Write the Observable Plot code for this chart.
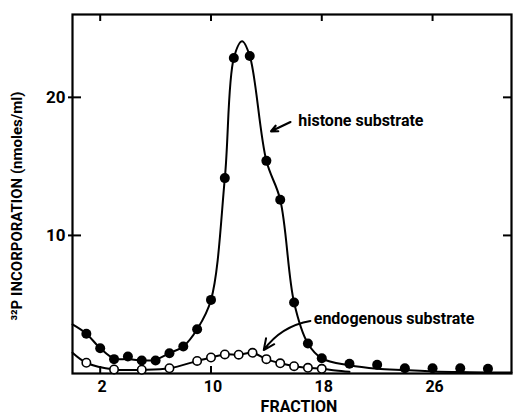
<!DOCTYPE html>
<html>
<head>
<meta charset="utf-8">
<script src="https://cdn.jsdelivr.net/npm/d3@7"></script>
<script src="https://cdn.jsdelivr.net/npm/@observablehq/plot@0.6"></script>
<style>
  html, body { margin: 0; padding: 0; background: #fff; }
  #chart svg { display: block; }
</style>
</head>
<body>
<div id="chart"></div>
<script>
// Histone substrate (filled dots)
const histoneFraction = [1, 2, 3, 4, 5, 6, 7, 8, 9, 10, 11, 11.65, 12.8, 14, 15, 16, 17, 18, 20, 22, 24, 26, 28, 30];
const histoneValue    = [2.88, 1.83, 1.04, 1.23, 0.94, 0.94, 1.47, 1.96, 3.21, 5.33, 14.15, 22.85, 23.0, 15.4, 12.59, 5.14, 2.17, 1.10, 0.70, 0.63, 0.38, 0.38, 0.38, 0.34];

// Endogenous substrate (open dots)
const endoFraction = [1, 3, 5, 7, 9, 10, 11, 12, 13, 14, 15, 16, 17, 18];
const endoValue    = [0.78, 0.29, 0.27, 0.38, 0.91, 1.16, 1.38, 1.36, 1.50, 1.04, 0.74, 0.53, 0.41, 0.34];

// Hand-drawn smooth curves
const histoneCurveFraction = [0, 1, 2, 3, 4, 5, 6, 7, 8, 9, 10, 11, 11.65, 12.25, 12.8, 14, 15, 16, 17, 18, 20, 22, 24, 26, 28, 30, 31.7];
const histoneCurveValue    = [3.55, 2.88, 1.83, 1.08, 1.05, 0.94, 1.0, 1.47, 1.96, 3.21, 5.33, 14.15, 22.85, 24.06, 23.0, 15.4, 12.59, 5.14, 2.17, 1.10, 0.6, 0.35, 0.25, 0.15, 0.1, 0.08, 0.08];
const endoCurveFraction = [0, 1, 3, 5, 7, 9, 10, 11, 12, 13, 14, 15, 16, 17, 18, 19, 20];
const endoCurveValue    = [1.5, 0.78, 0.29, 0.27, 0.38, 0.91, 1.16, 1.38, 1.36, 1.50, 1.04, 0.74, 0.53, 0.41, 0.34, 0.22, 0.12];

// Ticks
const xTicks = [2, 10, 18, 26];
const yTicks = [10, 20];

// Annotations
const labelText     = ["histone substrate", "endogenous substrate"];
const labelFraction = [16.3, 17.42];
const labelValue    = [18.33, 3.99];
const arrowFromFraction = [15.74, 17.18];
const arrowFromValue    = [18.21, 3.80];
const arrowToFraction   = [14.34, 13.81];
const arrowToValue      = [17.54, 1.70];

const histone = histoneFraction.map((f, i) => ({f, v: histoneValue[i]}));
const endo = endoFraction.map((f, i) => ({f, v: endoValue[i]}));
const histoneCurve = histoneCurveFraction.map((f, i) => ({f, v: histoneCurveValue[i]}));
const endoCurve = endoCurveFraction.map((f, i) => ({f, v: endoCurveValue[i]}));
const labels = labelText.map((t, i) => ({t, f: labelFraction[i], v: labelValue[i]}));
const arrows = arrowFromFraction.map((f, i) => ({
  x1: f, y1: arrowFromValue[i], x2: arrowToFraction[i], y2: arrowToValue[i]
}));

const W = 515, H = 414;
const mL = 72, mR = 4, mT = 14, mB = 41;
const pw = W - mL - mR, ph = H - mT - mB;
const font = "Roboto, 'DejaVu Sans', sans-serif";

const chart = Plot.plot({
  width: W,
  height: H,
  marginLeft: mL,
  marginRight: mR,
  marginTop: mT,
  marginBottom: mB,
  style: {fontFamily: font, fontWeight: "bold", color: "#000", background: "#fff"},
  x: {domain: [0, 31.7]},
  y: {domain: [0, 26]},
  marks: [
    Plot.frame({stroke: "#000", strokeWidth: 2.2}),
    // inward ticks on all four sides
    Plot.tickX(xTicks, {x: d => d, insetBottom: ph - 7, strokeWidth: 2}),
    Plot.tickX(xTicks, {x: d => d, insetTop: ph - 7, strokeWidth: 2}),
    Plot.tickY(yTicks, {y: d => d, insetRight: pw - 9, insetLeft: -4, strokeWidth: 2}),
    Plot.tickY(yTicks, {y: d => d, insetLeft: pw - 8, strokeWidth: 2}),
    Plot.axisX({ticks: xTicks, tickSize: 0, tickPadding: 7, fontSize: 16, dx: 2, tickFormat: d => d, label: null}),
    Plot.axisY({ticks: yTicks, tickSize: 0, tickPadding: 7, fontSize: 17, tickFormat: d => d, label: null}),
    Plot.text(["FRACTION"], {frameAnchor: "bottom", dy: 38, dx: 7, fontSize: 16, fontWeight: "bold", letterSpacing: "0.8px"}),
    Plot.text(["³²P INCORPORATION (nmoles/ml)"], {frameAnchor: "left", textAnchor: "middle", dx: -55, dy: 12, rotate: -90, fontSize: 15, fontWeight: "bold", letterSpacing: "1.3px"}),
    // curves
    Plot.line(histoneCurve, {x: "f", y: "v", curve: "catmull-rom", stroke: "#000", strokeWidth: 2}),
    Plot.line(endoCurve, {x: "f", y: "v", curve: "catmull-rom", stroke: "#000", strokeWidth: 2}),
    // dots
    Plot.dot(histone, {x: "f", y: "v", r: 5, fill: "#000", stroke: "none"}),
    Plot.dot(endo, {x: "f", y: "v", r: 4.2, fill: "#fff", stroke: "#000", strokeWidth: 1.6}),
    // annotations
    Plot.text(labels, {x: "f", y: "v", text: "t", textAnchor: "start", fontSize: 16, fontWeight: "bold", letterSpacing: "0.9px"}),
    Plot.arrow(arrows.slice(0, 1), {x1: "x1", y1: "y1", x2: "x2", y2: "y2", stroke: "#000", strokeWidth: 2.2, headLength: 9, headAngle: 50}),
    Plot.arrow(arrows.slice(1), {x1: "x1", y1: "y1", x2: "x2", y2: "y2", bend: -22, stroke: "#000", strokeWidth: 2, headLength: 9, headAngle: 50})
  ]
});
document.getElementById("chart").appendChild(chart);
</script>
</body>
</html>
